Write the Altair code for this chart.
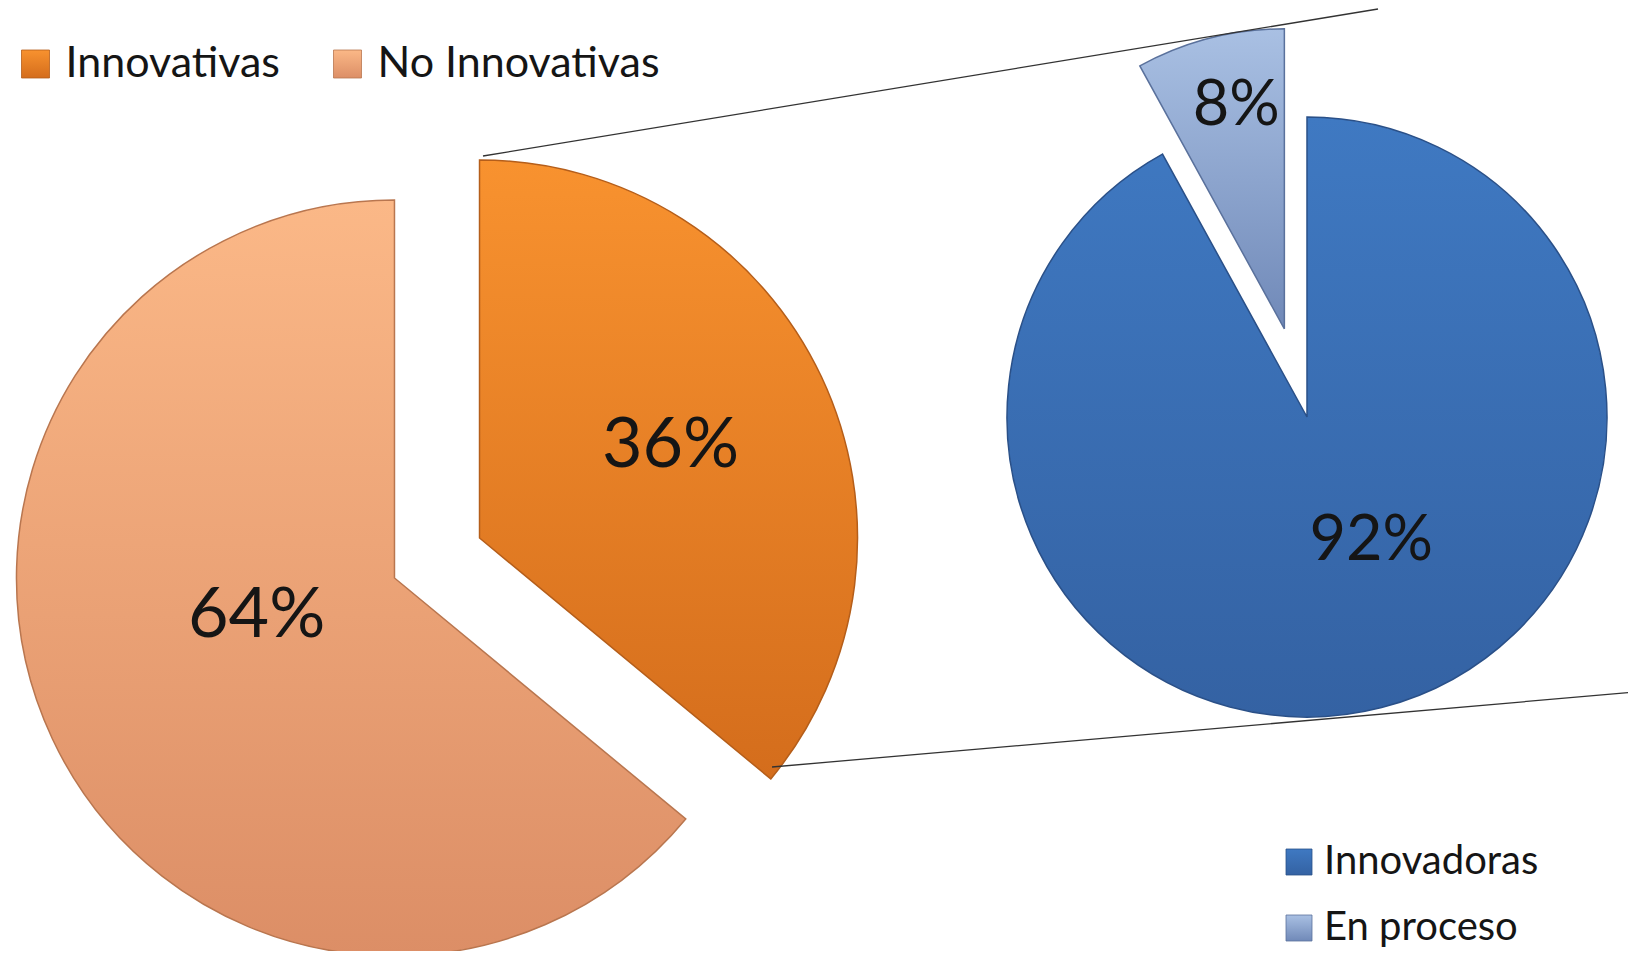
import math
import altair as alt
import pandas as pd

# ---------------- data ----------------
left_cats = ["Innovativas", "No Innovativas"]
left_vals = [36, 64]
right_cats = ["Innovadoras", "En proceso"]
right_vals = [92, 8]

# ---------------- style ----------------
W, H = 1620, 943
FONT = "Lato"
TXT = "#151515"

LEFT = dict(cx=429, cy=550, r=378)
RIGHT = dict(cx=1299, cy=409, r=300)

STYLE = {
    "Innovativas":    dict(top="#F8922F", bot="#D46D1C", stroke="#B55E1A", explode=47, ldist=212, lnudge=-0.5, fs=70),
    "No Innovativas": dict(top="#FBB887", bot="#DC8E66", stroke="#B9764F", explode=47, ldist=143, lnudge=9.8, fs=70),
    "Innovadoras":    dict(top="#3F79C2", bot="#3462A3", stroke="#2A5088", explode=0, ldist=140, lnudge=-12.9, fs=63),
    "En proceso":     dict(top="#A9C0E3", bot="#7089B8", stroke="#5A719C", explode=91, ldist=228, lnudge=2.2, fs=63),
}

theta_scale = alt.Scale(domain=[0, 100], range=[0, 2 * math.pi])


def gradient(cat):
    st = STYLE[cat]
    return alt.Gradient(
        gradient="linear",
        stops=[alt.GradientStop(color=st["top"], offset=0),
               alt.GradientStop(color=st["bot"], offset=1)],
        x1=0, x2=0, y1=0, y2=1,
    )


def pie_base(cats, vals):
    df = pd.DataFrame({"cat": cats, "val": vals, "ord": list(range(len(cats)))})
    return (
        alt.Chart(df)
        .transform_window(cum="sum(val)", sort=[alt.SortField("ord")], frame=[None, 0])
        .transform_joinaggregate(total="sum(val)")
        .transform_calculate(
            start="(datum.cum - datum.val) * 100 / datum.total",
            end="datum.cum * 100 / datum.total",
            mid="(datum.cum - datum.val / 2) / datum.total * 2 * PI",
            lbl="datum.val + '%'",
        )
    )


def pie_layers(cats, vals, geo):
    layers = []
    for cat in cats:
        st = STYLE[cat]
        base = (
            pie_base(cats, vals)
            .transform_filter(alt.datum.cat == cat)
            .transform_calculate(
                cx=f"{geo['cx']} + {st['explode']} * sin(datum.mid)",
                cy=f"{geo['cy']} - {st['explode']} * cos(datum.mid)",
            )
        )
        arc = base.mark_arc(radius=geo["r"], fill=gradient(cat), stroke=st["stroke"], strokeWidth=1.5).encode(
            theta=alt.Theta("start:Q", scale=theta_scale),
            theta2=alt.Theta2("end:Q"),
            x=alt.X("cx:Q", scale=None, axis=None),
            y=alt.Y("cy:Q", scale=None, axis=None),
        )
        nud = st["lnudge"] * math.pi / 180
        txt = (
            base.transform_calculate(
                lx=f"datum.cx + {st['ldist']} * sin(datum.mid + {nud})",
                ly=f"datum.cy - {st['ldist']} * cos(datum.mid + {nud})",
            )
            .mark_text(font=FONT, fontSize=st["fs"], color=TXT, align="center", baseline="middle")
            .encode(
                x=alt.X("lx:Q", scale=None, axis=None),
                y=alt.Y("ly:Q", scale=None, axis=None),
                text="lbl:N",
            )
        )
        layers += [arc, txt]
    return layers


def legend_layers(cats, x0, y0, dx, dy, size, fs, gap):
    df = pd.DataFrame({"cat": cats, "i": list(range(len(cats)))})
    layers = []
    for cat in cats:
        st = STYLE[cat]
        base = (
            alt.Chart(df)
            .transform_filter(alt.datum.cat == cat)
            .transform_calculate(sx=f"{x0} + datum.i * {dx}", sy=f"{y0} + datum.i * {dy}")
        )
        sq = base.mark_square(size=size * size, fill=gradient(cat), opacity=1,
                              stroke=st["stroke"], strokeWidth=0.8).encode(
            x=alt.X("sx:Q", scale=None, axis=None),
            y=alt.Y("sy:Q", scale=None, axis=None),
        )
        tx = base.transform_calculate(tx=f"datum.sx + {gap}").mark_text(
            font=FONT, fontSize=fs, color=TXT, align="left", baseline="middle"
        ).encode(
            x=alt.X("tx:Q", scale=None, axis=None),
            y=alt.Y("sy:Q", scale=None, axis=None),
            text="cat:N",
        )
        layers += [sq, tx]
    return layers


one = alt.Data(values=[{"k": 1}])
line1 = alt.Chart(one).mark_rule(color="#333333", strokeWidth=1.3).encode(
    x=alt.value(475), y=alt.value(148), x2=alt.value(1370), y2=alt.value(1)
)
line2 = alt.Chart(one).mark_rule(color="#333333", strokeWidth=1.3).encode(
    x=alt.value(764), y=alt.value(759), x2=alt.value(1628), y2=alt.value(684)
)

layers = (
    pie_layers(left_cats, left_vals, LEFT)
    + pie_layers(right_cats, right_vals, RIGHT)
    + [line1, line2]
    + legend_layers(left_cats, 27.5, 56, 312, 0, 28, 43, 30)
    + legend_layers(right_cats, 1291, 854, 0, 66, 26, 40, 25)
)

chart = (
    alt.layer(*layers)
    .properties(width=W, height=H, padding=0, autosize=alt.AutoSizeParams(type="none"))
    .configure_view(stroke=None)
)

chart.save("out.html", embed_options={"renderer": "svg", "actions": False})
